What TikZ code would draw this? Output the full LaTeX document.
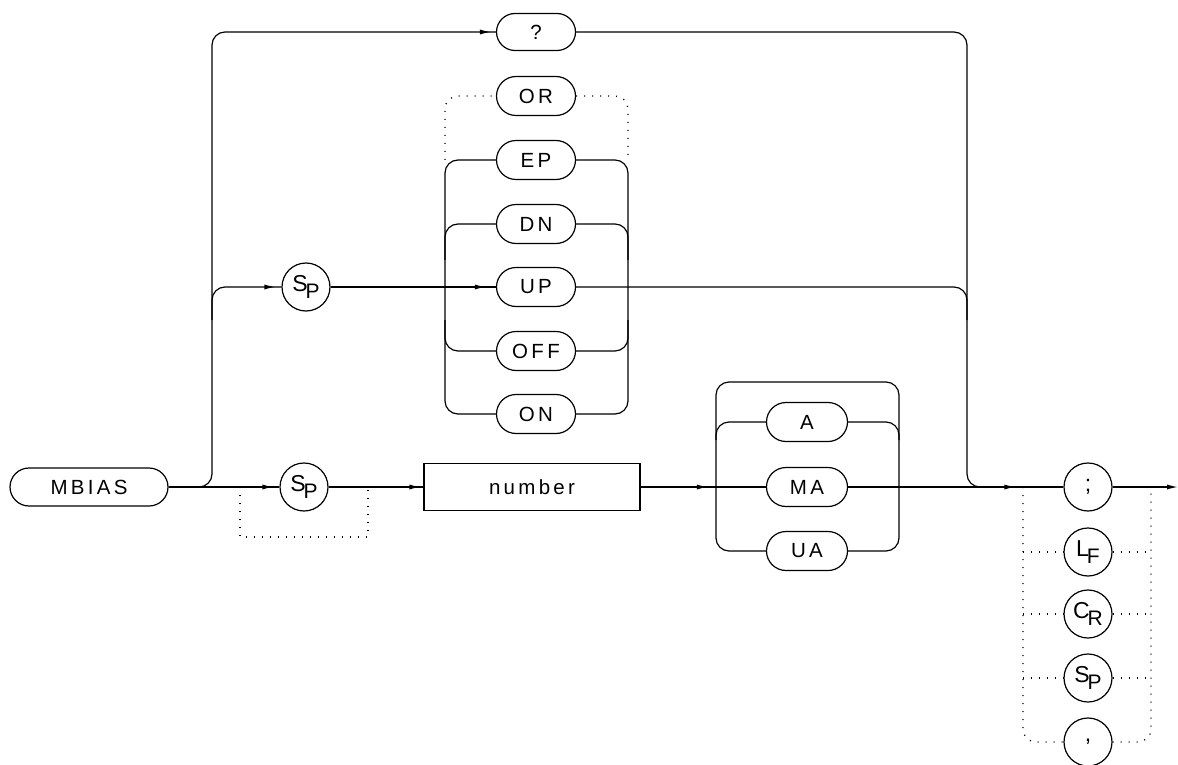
\documentclass[tikz,border=0pt]{standalone}
\usepackage{fontspec}
\newfontfamily\plotfont[LetterSpace=16]{Liberation Sans}
\newfontfamily\plotfontn{Liberation Sans}
\usetikzlibrary{shapes.misc,arrows.meta,decorations.markings}
\tikzset{
  tip/.tip={Latex[length=10pt,width=5pt,line width=0pt]},
  pill/.style={rounded rectangle, draw, line width=1.2pt, minimum width=79pt, minimum height=39pt, inner sep=0pt, font=\plotfont\fontsize{20.5}{23}\selectfont},
  circ/.style={circle, draw, line width=1.2pt, minimum size=48pt, inner sep=0pt, font=\plotfontn\fontsize{23}{25}\selectfont},
  numbox/.style={rectangle, draw, line width=1.2pt, minimum width=216pt, minimum height=47pt, inner sep=0pt, font=\plotfont\fontsize{20.5}{23}\selectfont},
  ln/.style={line width=1.2pt, rounded corners=13pt},
  dotl/.style={line width=1.3pt, dash pattern=on 1pt off 7pt, rounded corners=13pt},
  arr/.style={postaction={decorate}, decoration={markings, mark=at position -#1 with {\arrow{tip}}}},
  arr/.default=6pt
}
\newcommand{\subl}[2]{#1\kern-2pt\raisebox{-7pt}{\fontsize{21}{23}\selectfont #2}}
\begin{document}
\begin{tikzpicture}[x=1pt,y=-1pt]
\useasboundingbox (0,0) rectangle (1178,765);
% nodes
\node[pill, minimum width=158pt, minimum height=38pt] (mbias) at (89,487) {MBIAS};
\node[pill, minimum height=37pt] (q) at (536,32) {?};
\node[pill] (or) at (536,96) {OR};
\node[pill] (ep) at (536,160) {EP};
\node[pill] (dn) at (536,224) {DN};
\node[pill] (up) at (536,287) {UP};
\node[pill] (off) at (536,351) {OFF};
\node[pill] (on) at (536,414) {ON};
\node[circ] (sp1) at (306,287) {\subl{S}{P}};
\node[circ] (sp2) at (304,487) {\subl{S}{P}};
\node[numbox] (num) at (532,487) {number};
\node[pill, minimum width=81pt] (a) at (807,422) {A};
\node[pill, minimum width=81pt] (ma) at (807,487) {MA};
\node[pill, minimum width=81pt] (ua) at (807,551) {UA};
\node[circ] (semi) at (1088,487) {;};
\node[circ] (lf) at (1088,552) {\subl{L}{F}};
\node[circ] (cr) at (1088,614) {\subl{C}{R}};
\node[circ] (sp3) at (1088,678) {\subl{S}{P}};
\node[circ] (comma) at (1088,742) {,};
\coordinate (endc) at (1177,487);
% left trunk to ? and upper SP
\draw[ln,arr] (mbias.east) -- (212,487) -- (212,32) -- (q.west);
\draw[ln,arr=7pt] (212,320) -- (212,287) -- (sp1.west);
\draw[ln,arr=7pt] (mbias.east) -- (sp2.west);
\draw[dotl, rounded corners=0pt] (240,487) -- (240,537) -- (368,537) -- (368,487);
\draw[ln,arr=4pt] (sp2.east) -- (num.west);
% upper choice group
\draw[ln,arr=11pt] (sp1.east) -- (up.west);
\draw[ln] (ep.west) -- (445,160) -- (445,414) -- (on.west);
\draw[ln] (445,260) -- (445,224) -- (dn.west);
\draw[ln] (445,320) -- (445,351) -- (off.west);
\draw[ln] (ep.east) -- (628,160) -- (628,414) -- (on.east);
\draw[ln] (dn.east) -- (628,224) -- (628,260);
\draw[ln] (off.east) -- (628,351) -- (628,320);
\draw[dotl] (445,160) -- (445,96) -- (or.west);
\draw[dotl] (or.east) -- (628,96) -- (628,160);
% right trunk
\draw[ln] (q.east) -- (967,32) -- (967,320);
\draw[ln] (up.east) -- (967,287) -- (967,487) -- (1000,487);
% unit group
\draw[ln,arr=59pt] (num.east) -- (ma.west);
\draw[ln] (a.west) -- (716,422) -- (716,551) -- (ua.west);
\draw[ln] (a.east) -- (899,422) -- (899,551) -- (ua.east);
\draw[ln] (716,440) -- (716,382) -- (899,382) -- (899,440);
% terminators
\draw[ln,arr=49pt] (ma.east) -- (semi.west);
\draw[ln,-tip] (semi.east) -- (endc);
\draw[dotl] (1023,487) -- (1023,742) -- (comma.west);
\draw[dotl] (comma.east) -- (1151,742) -- (1151,487);
\draw[dotl] (1023,552) -- (lf.west);
\draw[dotl] (lf.east) -- (1151,552);
\draw[dotl] (1023,614) -- (cr.west);
\draw[dotl] (cr.east) -- (1151,614);
\draw[dotl] (1023,678) -- (sp3.west);
\draw[dotl] (sp3.east) -- (1151,678);
\end{tikzpicture}
\end{document}
